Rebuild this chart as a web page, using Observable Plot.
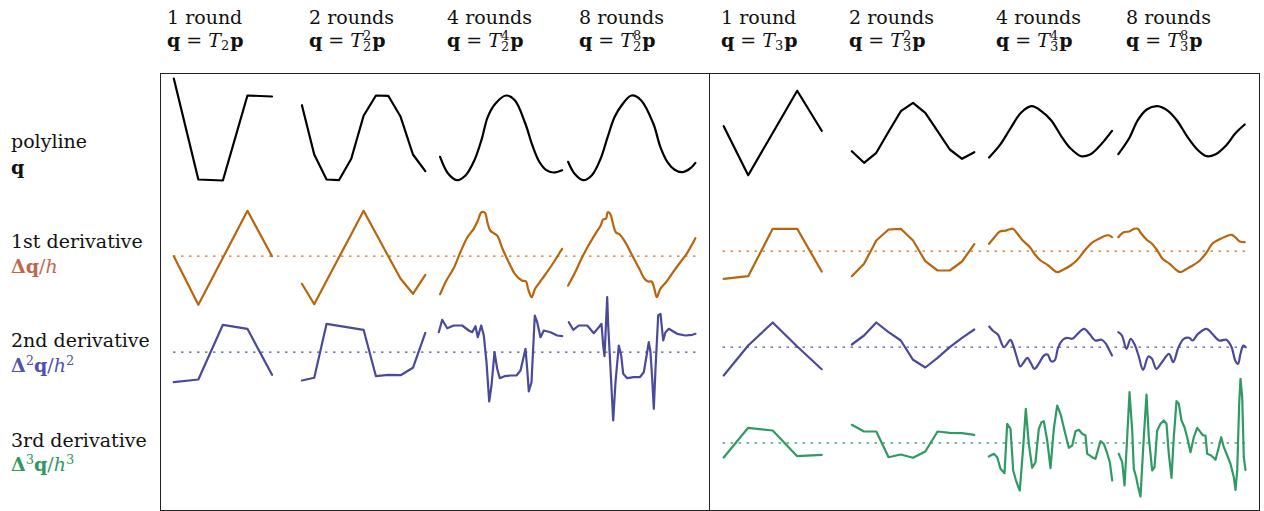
<!DOCTYPE html>
<html><head><meta charset="utf-8">
<script src="https://cdn.jsdelivr.net/npm/d3@7"></script>
<script src="https://cdn.jsdelivr.net/npm/@observablehq/plot@0.6"></script>
<style>
html,body{margin:0;padding:0;background:#fff;}
#chart{width:1264px;height:511px;}
</style>
</head><body><div id="chart"></div>
<script>
// ---------------- DATA ----------------
// Column headers
const roundLabels = ["1 round", "2 rounds", "4 rounds", "8 rounds", "1 round", "2 rounds", "4 rounds", "8 rounds"];
const operatorIndex = [2, 2, 2, 2, 3, 3, 3, 3];
const operatorPower = ["", "2", "4", "8", "", "2", "4", "8"];
// Row labels
const rowNames = ["polyline", "1st derivative", "2nd derivative", "3rd derivative"];

// Evenly sampled curves: values above the row's reference line.
// Finely subdivided curves: [sample position t, value].
// --- polyline q ---
const qT2_1 = [52, -49, -50, 35, 34];
const qT2_2 = [25.3, -24, -49, -49.7, -28.3, 14.7, 35, 34.7, 13.7, -24, -40.7];
const qT2_4 = [[279.6,-26.3],[287.6,-43],[296.4,-49.7],[305.2,-44.7],[313.9,-29.7],[320.9,-9.7],[327.3,13.7],[335,27],[345.5,35],[354.3,30.3],[364.8,7],[371.8,-14.7],[378.8,-31.3],[385.8,-39.7],[392.8,-42],[401.6,-39.7]];
const qT2_8 = [[407.6,-31.3],[413.9,-43],[422.7,-49.7],[431.4,-44.7],[440.2,-28],[447.2,-6.3],[454.2,13.7],[461.2,25.3],[471.1,35],[480.5,30.3],[492.8,7],[499.8,-16.3],[506.8,-31.3],[513.8,-39],[521.6,-41.7],[529.6,-38],[534.9,-32.3]];
const qT3_1 = [4.3, -44.7, -2.5, 39.7, -0.3];
const qT3_2 = [-20.7, -32.3, -22.3, -1.3, 19.3, 27.7, 17.7, -0.7, -19, -28.3, -21.7];
const qT3_4 = [[828.6,-27],[839.3,-14.7],[849.9,2],[860.5,17.7],[871.1,24.3],[881.7,18.7],[890.6,10.3],[901.2,-6.3],[910.1,-18],[920.7,-25.7],[929.5,-24],[938.4,-16.3],[945.5,-8],[951.5,-0.3]];
const qT3_8 = [[957.8,-23.7],[968.5,-8],[977.3,10.3],[986.2,21],[996.8,24.3],[1007.4,19.7],[1016.3,10.3],[1026.9,-6.3],[1037.5,-19.7],[1046.3,-25.7],[1055.2,-23.7],[1065.8,-14.7],[1074.7,-3],[1084.2,6]];

// --- 1st derivative Δq/h ---
const d1T2_1 = [0, -48.6, -1.6, 45.4, 0];
const d1T2_2 = [-27.6, -48, -24.6, -1.3, 22, 45.4, 22.7, 0, -22.6, -37.6, -18.6];
const d1T2_4 = [[279.6,-38],[285.9,-24.3],[292.9,-12.6],[299.9,4],[306.9,19],[313.2,27.4],[317.4,35.7],[320.9,44],[324.4,43.4],[326.9,34],[329.7,25.7],[333.2,23],[336.7,20.7],[342,7.4],[349,-7.6],[354.3,-17.6],[361.3,-24.3],[365.5,-25.3],[367.6,-32.6],[371.1,-41],[374.6,-32.6],[378.8,-26.6],[384.1,-19.3],[391.1,-9.3],[396.4,-1],[401.6,7.4]];
const d1T2_8 = [[407.6,-29.3],[413.9,-17.6],[420.9,-2.6],[427.9,10.7],[434.9,22.4],[440.2,30.7],[442.6,36.7],[445.5,37.4],[447.2,44],[449.7,42.4],[452.5,32.4],[455.3,24],[459.5,21.4],[464.7,14],[471.8,0.7],[478.8,-12.6],[484,-22.6],[487.5,-25.3],[491.1,-25.3],[493.9,-32.6],[496.3,-41],[499.8,-32.6],[505.1,-26.6],[510.3,-19.3],[517.4,-9.3],[526.1,2.4],[534.9,18]];
const d1T3_1 = [-27.6, -25, 22.4, 22.4, -20.3];
const d1T3_2 = [-25, -12.6, 10.7, 21.7, 22.4, 10.7, -10, -19.3, -19.3, -10.3, 7];
const d1T3_4 = [[828.6,7.4],[834,14],[839.3,19.7],[844.6,20.4],[848.1,21.7],[852.4,22.4],[857,17.4],[862.3,10.7],[869.4,4],[874.7,-3.6],[880,-9.3],[887.1,-13.6],[892.4,-18.3],[896.6,-21],[903,-18.3],[910.1,-14.3],[917.1,-8.3],[924.2,0.7],[931.3,8.4],[938.4,12.4],[945.5,15.7],[949,15.7],[951.5,14]];
const d1T3_8 = [[957.8,14],[963.2,19],[968.5,19.7],[973.8,22.4],[977.3,22.4],[980.9,17.4],[986.2,11.4],[991.5,7.4],[996.8,0.7],[1002.1,-7.6],[1009.2,-12.6],[1014.5,-17.6],[1019.8,-21],[1025.1,-18.3],[1032.2,-14.3],[1039.3,-9.3],[1046.3,-1],[1051.7,7.4],[1058.7,11.7],[1065.8,15],[1071.1,16.4],[1074.7,14],[1079.3,9.7],[1084.2,9]];

// --- 2nd derivative Δ²q/h² ---
const d2T2_1 = [-30, -27.3, 27.4, 23.4, -22.6];
const d2T2_2 = [-28.3, -25.6, 28.4, 26.4, 24.4, 22.4, -24, -22.6, -23, -15.6, 19.4];
const d2T2_4 = [[278.3,20],[281.7,32.4],[286.7,24],[293.3,26.7],[301.7,26.7],[308.3,21.7],[311.7,20],[315,26],[317.3,15],[320.7,26.7],[323.3,16.7],[326,-10],[328.7,-49.3],[331,-33.3],[334,0],[336.7,-16.6],[339.3,-26],[344,-24],[350,-23.3],[356,-23.3],[360,-18.3],[365,3.4],[366.7,-16.6],[368.3,-39.3],[371,-30],[374.3,36.7],[376.7,30],[380,15],[383.3,21.7],[390,20],[396.7,16.7],[401.7,16]];
const d2T2_8 = [[408.3,30],[412.7,22.4],[418.3,26.7],[426.7,26.7],[433.3,19],[438.3,25],[441,28.4],[442.7,6.7],[444,-4],[446.7,55],[447.7,26.7],[450,-16.6],[452.7,-68.3],[455,-30],[458.3,6.7],[460.7,-3.3],[462.7,-21.6],[466.7,-26],[473.3,-25],[479.3,-25],[483.3,-20],[488.3,10],[490,0],[491.7,-26.6],[493.3,-56.6],[495,-16.6],[497.7,36.7],[500,38.4],[502.7,11.7],[505,20],[508.3,23.4],[516.7,18.4],[525,16.7],[531.7,17.4],[535,18.4]];
const d2T3_1 = [-28.3, 1.7, 24.7, 0.7, -22];
const d2T3_2 = [2.7, 11.7, 24.7, 15, 6.7, -12.6, -20.3, -10.6, 0, 9.4, 17.7];
const d2T3_4 = [[828.7,20.7],[832.2,16.7],[837.5,12.4],[843.5,0],[849.9,7.4],[852.7,1.7],[856.3,-10],[859.8,-19.3],[863.3,-15],[866.9,-10.6],[870.4,-16],[874,-21.6],[878.2,-16.6],[883.5,-8.3],[887.1,-7.3],[890.6,-14],[894.1,-13.3],[897.7,0],[902.3,7.4],[906.5,9.4],[911.8,8.4],[917.1,13.4],[923.5,18.4],[929.5,12.7],[934.8,6.7],[941.2,7.4],[945.5,3.4],[949,-3.3],[951.5,-8.3]];
const d2T3_8 = [[957.8,15],[961.4,11.7],[966,-1.6],[970.2,8.4],[973.8,3.4],[978,-8.3],[982.6,-22.6],[987.9,-9.3],[991.5,-11.6],[995.7,-21.6],[1001.4,-15],[1008.5,-6.6],[1012.7,-15],[1018,0],[1023.3,8.4],[1028.6,9.4],[1032.2,6.7],[1037.5,13.4],[1046.3,18.4],[1051.7,13.4],[1058.7,6.7],[1065.8,7.4],[1071.1,0],[1074.7,-13.3],[1077.5,-16.6],[1080,-6.6],[1082.8,1.7],[1085.3,0]];

// --- 3rd derivative Δ³q/h³ (T3 only) ---
const d3T3_1 = [-14.5, 15.2, 12.5, -13.2, -11.8];
const d3T3_2 = [18.2, 11.5, 11.5, -14.2, -11.5, -14.8, -8.5, 11.5, 10.2, 9.8, 8.2];
const d3T3_4 = [[828.3,-13.5],[833.3,-10.8],[836.7,-14.2],[840,-25.8],[844,-30.2],[846.7,19.2],[850,14.2],[852.7,-27.5],[856,-39.2],[859.3,-47.5],[862.7,-4.2],[865.3,34.2],[868.3,-0.8],[871.7,-24.8],[875,-19.2],[878.3,14.2],[881,20.8],[883.3,21.8],[886.7,2.5],[890,-25.2],[893.3,14.2],[896.7,37.5],[900,29.2],[904,12.5],[908.3,-4.8],[911.7,-2.5],[915,11.8],[918.3,13.2],[921.7,9.2],[925,7.5],[926.7,-10.8],[931.7,-14.2],[935,-15.8],[937.3,-7.5],[940,1.8],[943.3,-0.8],[946.7,-10.2],[949.3,-19.2],[951.7,-37.5]];
const d3T3_8 = [[958.3,-10.8],[961.7,-19.2],[964,-42.5],[966.7,5.8],[969,50.8],[971.7,12.5],[973.3,-25.8],[975.7,-34.2],[977.3,-42.5],[980,-53.5],[983.3,5.8],[986,48.5],[988.3,5.8],[991.7,-27.5],[994,-24.2],[996.7,12.5],[1000,19.2],[1003.3,22.5],[1006,19.2],[1008.3,-10.8],[1011,-34.8],[1013.3,5.8],[1016,41.8],[1018.3,39.2],[1021,22.5],[1024,15.8],[1026.7,5.8],[1030,-9.2],[1033.3,5.8],[1036.7,15.2],[1040,10.8],[1042.7,7.5],[1045,7.5],[1046.7,-10.8],[1050.7,-12.5],[1055,-16.8],[1058.3,-4.2],[1060.7,5.8],[1063.3,-4.2],[1066.7,-12.5],[1070,-20.8],[1073.3,-34.2],[1075,-46.8],[1076.7,-27.5],[1078.7,39.2],[1080,64.2],[1081.7,45.8],[1083.3,-14.2],[1085,-26.8]];

// ---------------- LAYOUT / STYLE ----------------
const ROWS = {
  poly: {stroke: "#000000", level: [380, 380]},
  d1:   {stroke: "#b8650c", dot: "#c27a30", level: [254.3, 259.3]},
  d2:   {stroke: "#4a4a9c", dot: "#5a5aa6", level: [158.3, 163.3]},
  d3:   {stroke: "#2f9a64", dot: "#4aa87a", level: [null, 67.5]}
};
const labelColors = ["#111111", "#c0674d", "#5252aa", "#2e9a5f"];
const GRID = {1: [13.3, 24.55], 2: [141.4, 12.34], 5: [563.2, 24.5], 6: [691.3, 12.25]};
const BLOCK_SPAN = [[13, 538], [562.5, 1089]];

const curves = [
  ["poly",1,qT2_1],["poly",2,qT2_2],["poly",3,qT2_4],["poly",4,qT2_8],
  ["poly",5,qT3_1],["poly",6,qT3_2],["poly",7,qT3_4],["poly",8,qT3_8],
  ["d1",1,d1T2_1],["d1",2,d1T2_2],["d1",3,d1T2_4],["d1",4,d1T2_8],
  ["d1",5,d1T3_1],["d1",6,d1T3_2],["d1",7,d1T3_4],["d1",8,d1T3_8],
  ["d2",1,d2T2_1],["d2",2,d2T2_2],["d2",3,d2T2_4],["d2",4,d2T2_8],
  ["d2",5,d2T3_1],["d2",6,d2T3_2],["d2",7,d2T3_4],["d2",8,d2T3_8],
  ["d3",5,d3T3_1],["d3",6,d3T3_2],["d3",7,d3T3_4],["d3",8,d3T3_8]
];

function toPoints(row, col, data) {
  const block = col <= 4 ? 0 : 1;
  const level = ROWS[row].level[block];
  if (typeof data[0] === "number") {
    const [s, h] = GRID[col];
    return data.map((v, i) => ({x: s + i * h, y: level + v}));
  }
  return data.map(([t, v]) => ({x: t, y: level + v}));
}
const smooth = (row, col) => (row === "poly" || row === "d1" || (row === "d2" && col >= 7)) && [3,4,7,8].includes(col);

const lineMarks = curves.map(([row, col, data]) =>
  Plot.line(toPoints(row, col, data), {
    x: "x", y: "y", stroke: ROWS[row].stroke, strokeWidth: 2.2,
    curve: smooth(row, col) ? "catmull-rom" : "linear"
  })
);

const refLines = [];
["d1", "d2", "d3"].forEach(row => [0, 1].forEach(b => {
  if (ROWS[row].level[b] != null) refLines.push({y: ROWS[row].level[b], x1: BLOCK_SPAN[b][0], x2: BLOCK_SPAN[b][1], c: ROWS[row].dot});
}));

const chart = Plot.plot({
  width: 1264, height: 511,
  marginLeft: 160, marginRight: 5, marginTop: 73, marginBottom: 1,
  x: {domain: [0, 1099], axis: null},
  y: {domain: [0, 437], axis: null},
  color: {type: "identity"},
  style: {background: "#fff", overflow: "visible"},
  marks: [
    Plot.ruleY(refLines, {y: "y", x1: "x1", x2: "x2", stroke: "c", strokeWidth: 1.3, strokeDasharray: "2.5,5.5"}),
    ...lineMarks,
    Plot.ruleX([549], {stroke: "#222", strokeWidth: 1}),
    Plot.frame({stroke: "#222", strokeWidth: 1})
  ]
});
document.getElementById("chart").appendChild(chart);

// ---------------- TEXT ----------------
const headerX = [167, 309, 447, 579, 721, 849, 996, 1126];
const nameY = [148, 248, 347, 447];
const mathY = [174, 273, 372, 471];
const svg = d3.select(chart);
const g = svg.append("g")
  .attr("font-family", "'DejaVu Serif', serif")
  .attr("font-size", 19)
  .attr("text-anchor", "start")
  .attr("fill", "#111")
  .style("white-space", "pre");

roundLabels.forEach((lab, i) => {
  g.append("text").attr("x", headerX[i]).attr("y", 24).text(lab);
  const t = g.append("text").attr("x", headerX[i]).attr("y", 47);
  t.append("tspan").attr("font-weight", "bold").text("q");
  t.append("tspan").text(" = ");
  t.append("tspan").attr("font-style", "italic").text("T");
  if (operatorPower[i]) {
    t.append("tspan").attr("font-size", 13).attr("dy", 4).text(operatorIndex[i]);
    t.append("tspan").attr("font-size", 13).attr("dx", -8.3).attr("dy", -11).text(operatorPower[i]);
    t.append("tspan").attr("font-weight", "bold").attr("dx", 1).attr("dy", 7).text("p");
  } else {
    t.append("tspan").attr("font-size", 13).attr("dy", 3).text(operatorIndex[i]);
    t.append("tspan").attr("font-weight", "bold").attr("dx", 1).attr("dy", -3).text("p");
  }
});

rowNames.forEach((name, r) => {
  g.append("text").attr("x", 11).attr("y", nameY[r]).text(name);
  const t = g.append("text").attr("x", 11).attr("y", mathY[r]).attr("fill", labelColors[r]);
  if (r === 0) { t.append("tspan").attr("font-weight", "bold").text("q"); return; }
  t.append("tspan").attr("font-weight", "bold").text("Δ");
  if (r > 1) t.append("tspan").attr("font-size", 13).attr("dy", -7).text(String(r));
  const qs = t.append("tspan").attr("font-weight", "bold").text("q");
  if (r > 1) qs.attr("dy", 7);
  t.append("tspan").text("/");
  t.append("tspan").attr("font-style", "italic").text("h");
  if (r > 1) t.append("tspan").attr("font-size", 13).attr("dy", -7).text(String(r));
});
</script>
</body></html>
